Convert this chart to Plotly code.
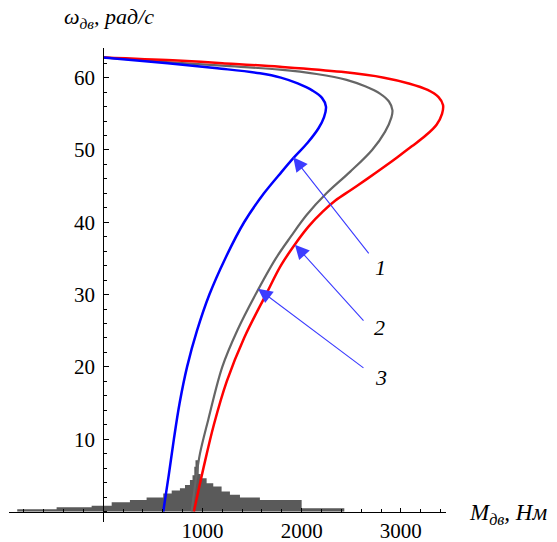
import plotly.graph_objects as go

# ---- data ----
# curve 1 (blue): speed (rad/s) and torque (N·m)
w_blue = [0, 5, 10, 15, 20, 25, 30, 35, 40, 44, 47, 49, 51, 53, 54.5, 56, 57.2, 58.2, 59.2, 60, 60.6, 61.3, 62, 62.8]
m_blue = [605, 660, 712, 770, 845, 945, 1070, 1230, 1420, 1620, 1800, 1925, 2060, 2170, 2225, 2245, 2205, 2110, 1960, 1790, 1580, 1150, 650, 0]
# curve 2 (red)
w_red = [0, 6, 12, 18, 24, 30, 34, 37, 39.5, 41.5, 43, 44.5, 46, 47.5, 49, 50.5, 52, 53.5, 55, 56.2, 57.3, 58.3, 59.2, 60, 60.8, 61.5, 62, 62.4, 62.8]
m_red = [914, 1010, 1115, 1245, 1420, 1640, 1790, 1935, 2075, 2215, 2340, 2500, 2660, 2815, 2965, 3110, 3250, 3360, 3415, 3425, 3380, 3270, 3080, 2830, 2400, 1781, 1200, 700, 0]
# curve 3 (gray)
w_gray = [0, 5, 8, 12.66, 20, 25, 30, 35, 38, 41, 44, 47, 50, 52.5, 54.5, 55.5, 56.7, 57.8, 58.8, 59.7, 60.5, 61.1, 61.65, 62.2, 62.8]
m_gray = [890, 940, 975, 1058, 1200, 1350, 1535, 1740, 1890, 2050, 2250, 2490, 2710, 2840, 2905, 2915, 2880, 2789, 2640, 2453, 2150, 1781, 1200, 600, 0]

# distribution at the bottom (step edges and heights)
hist_m = [-867, -470, -117, 85, 269, 437, 605, 690, 773, 824, 874, 900, 918, 930, 962, 982, 1042, 1109, 1193, 1277, 1378, 1579, 2000, 2430]
hist_h = [0.3, 0.58, 0.8, 1.27, 1.6, 1.95, 2.5, 2.9, 3.2, 3.65, 4.35, 5.0, 6.2, 7.1, 5.2, 4.6, 3.9, 3.45, 2.76, 2.3, 1.95, 1.6, 0.46, 0]

x_ticks = [1000, 2000, 3000]
y_ticks = [10, 20, 30, 40, 50, 60]

# arrow annotations: label, label position, arrow tip, arrow tail
arrow_labels = ["1", "2", "3"]
label_m = [2799, 2789, 2799]
label_w = [33.8, 25.5, 18.6]
tip_m = [1915, 1932, 1560]
tip_w = [49.0, 36.9, 30.8]
tail_m = [2688, 2637, 2638]
tail_w = [35.5, 26.2, 19.7]

W, H = 557, 542
SERIF = "Liberation Serif"

fig = go.Figure()
fig.add_trace(go.Scatter(x=hist_m, y=hist_h, mode="lines", line=dict(shape="hv", width=0, color="#5a5a5a"),
                         fill="tozeroy", fillcolor="#5a5a5a", hoverinfo="skip"))
fig.add_trace(go.Scatter(x=m_gray, y=w_gray, mode="lines", line=dict(color="#666666", width=2.2, shape="spline")))
fig.add_trace(go.Scatter(x=m_red, y=w_red, mode="lines", line=dict(color="#ff0000", width=2.5, shape="spline")))
fig.add_trace(go.Scatter(x=m_blue, y=w_blue, mode="lines", line=dict(color="#0000ff", width=2.5, shape="spline")))

x0_px, x1_px = 9, 445.5
ytop_px, ybot_px = 48, 521.5
fig.update_layout(
    width=W, height=H, margin=dict(l=0, r=0, t=0, b=0),
    paper_bgcolor="white", plot_bgcolor="white", showlegend=False,
    xaxis=dict(domain=[x0_px / W, x1_px / W], range=[-950, 3450], anchor="free", position=1 - 511.5 / H,
               showgrid=False, zeroline=False, showline=True, linecolor="black", linewidth=1,
               tickvals=x_ticks, ticks="inside", ticklen=4, tickcolor="black",
               minor=dict(dtick=200, tick0=0, ticks="inside", ticklen=2.5, tickcolor="black"),
               tickfont=dict(family=SERIF, size=21, color="black"), automargin=False),
    yaxis=dict(domain=[1 - ybot_px / H, 1 - ytop_px / H], range=[-1.383, 64.1], anchor="free", position=103.3 / W,
               showgrid=False, zeroline=False, showline=True, linecolor="black", linewidth=1,
               tickvals=y_ticks, ticks="inside", ticklen=5, tickcolor="black", ticklabelstandoff=4,
               minor=dict(dtick=2, tick0=0, ticks="inside", ticklen=3, tickcolor="black"),
               tickfont=dict(family=SERIF, size=21, color="black"), automargin=False),
)

ann = []
for lab, lx, ly, tx, ty, ax, ay in zip(arrow_labels, label_m, label_w, tip_m, tip_w, tail_m, tail_w):
    ann.append(dict(x=tx, y=ty, ax=ax, ay=ay, xref="x", yref="y", axref="x", ayref="y", text="",
                    showarrow=True, arrowhead=2, arrowsize=2.6, arrowwidth=1.1, arrowcolor="#3c3cff", standoff=0))
    ann.append(dict(x=lx, y=ly, xref="x", yref="y", text="<i>" + lab + "</i>", showarrow=False,
                    font=dict(family=SERIF, size=22, color="black")))
ann.append(dict(x=62 / W, y=1 - 18 / H, xref="paper", yref="paper", xanchor="left", yanchor="middle",
                text="<i>ω<sub>дв</sub>, рад/с</i>", showarrow=False, font=dict(family=SERIF, size=22, color="black")))
ann.append(dict(x=467 / W, y=1 - 514 / H, xref="paper", yref="paper", xanchor="left", yanchor="middle",
                text="<i>M<sub>дв</sub>, Нм</i>", showarrow=False, font=dict(family=SERIF, size=23, color="black")))
fig.update_layout(annotations=ann)

fig.write_html("out.html", config={"displayModeBar": False},
               post_script="document.body.style.margin='0';document.body.style.overflow='hidden';")
